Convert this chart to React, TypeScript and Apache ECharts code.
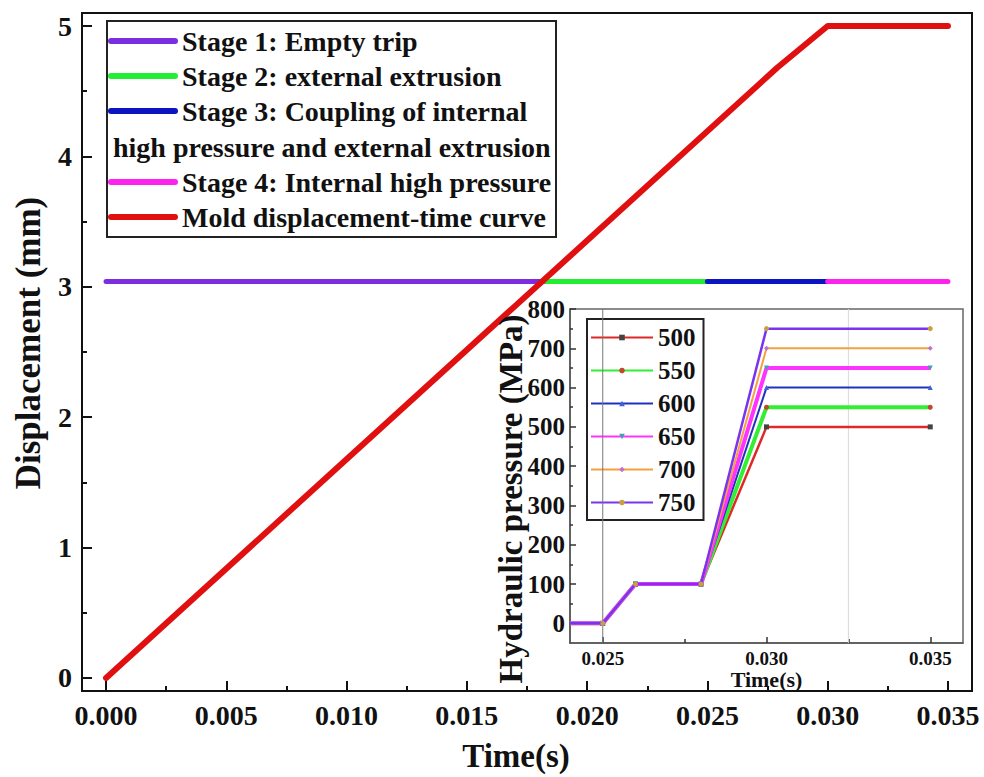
import React, { useEffect, useRef } from "react";
import * as echarts from "echarts";

const FONT = "Liberation Serif";

// ---- main chart data ----
const MAIN_X_TICKS = [0, 0.005, 0.01, 0.015, 0.02, 0.025, 0.03, 0.035];
const MAIN_X_MINOR = [0.0025, 0.0075, 0.0125, 0.0175, 0.0225, 0.0275, 0.0325];
const MAIN_Y_TICKS = [0, 1, 2, 3, 4, 5];
const MAIN_Y_MINOR = [0.5, 1.5, 2.5, 3.5, 4.5];

const MOLD_TIME = [0, 0.0279, 0.03, 0.035];
const MOLD_DISP = [0, 4.68, 5, 5];

const STAGE_NAMES = [
  "Stage 1: Empty trip",
  "Stage 2: external extrusion",
  "Stage 3: Coupling of internal",
  "Stage 4: Internal high pressure",
];
const STAGE_START = [0, 0.0183, 0.025, 0.03];
const STAGE_END = [0.0183, 0.025, 0.03, 0.035];
const STAGE_LEVEL = 3.04;
const STAGE_COLORS = ["#7b2ee0", "#22ee33", "#0a14c0", "#ff22ee"];
const MOLD_NAME = "Mold displacement-time curve";
const MOLD_COLOR = "#e01010";

// ---- inset data ----
const INSET_TIME = [0.024, 0.025, 0.026, 0.028, 0.03, 0.035];
const P500 = [0, 0, 100, 100, 500, 500];
const P550 = [0, 0, 100, 100, 550, 550];
const P600 = [0, 0, 100, 100, 600, 600];
const P650 = [0, 0, 100, 100, 650, 650];
const P700 = [0, 0, 100, 100, 700, 700];
const P750 = [0, 0, 100, 100, 750, 750];
const INSET_NAMES = ["500", "550", "600", "650", "700", "750"];
const INSET_VALUES = [P500, P550, P600, P650, P700, P750];
const INSET_LINE_COLORS = ["#e02828", "#33ee33", "#2030c0", "#ff33ff", "#f5a040", "#7a34f0"];
const INSET_MARK_COLORS = ["#444444", "#c04830", "#4062d8", "#40a0b0", "#c070d0", "#c8a040"];
const INSET_SYMBOLS = ["rect", "circle", "triangle", "path://M0,0 L10,0 L5,10 Z", "diamond", "circle"];
const INSET_WIDTHS = [2.5, 4, 2, 4, 2, 2.5];
const INSET_X_TICKS = [0.025, 0.03, 0.035];
const INSET_X_MINOR = [0.0275, 0.0325];
const INSET_Y_TICKS = [0, 100, 200, 300, 400, 500, 600, 700, 800];
const INSET_Y_MINOR = [50, 150, 250, 350, 450, 550, 650, 750];
const INSET_Y_MIN = -50;
const INSET_Y_MAX = 800;
const INSET_VLINES = [0.025, 0.0325];
const INSET_VLINE_COLORS = ["#777777", "#d8d8d8"];

const MAIN_GRID = { left: 82, top: 13, width: 890, height: 679 };
const INSET_GRID = { left: 570, top: 309, width: 393, height: 334 };

function buildOption() {
  const txt = (size: number) => ({
    fontFamily: FONT,
    fontWeight: "bold" as const,
    fontSize: size,
    color: "#111",
  });

  const xAxis: any[] = [
    {
      type: "value",
      gridIndex: 0,
      position: "bottom",
      min: -0.001,
      max: 0.036,
      axisLine: { show: true, onZero: false, lineStyle: { color: "#111", width: 2 } },
      axisTick: { show: true, inside: true, length: 10, customValues: MAIN_X_TICKS, lineStyle: { color: "#111", width: 2 } },
      axisLabel: { customValues: MAIN_X_TICKS, formatter: (v: number) => v.toFixed(3), margin: 10, ...txt(28) },
      splitLine: { show: false },
      name: "Time(s)",
      nameLocation: "middle",
      nameGap: 48,
      nameTextStyle: { ...txt(33), padding: [0, 22, 0, 0] },
    },
    {
      type: "value",
      gridIndex: 0,
      position: "bottom",
      min: -0.001,
      max: 0.036,
      axisLine: { show: false, onZero: false },
      axisTick: { show: true, inside: true, length: 5, customValues: MAIN_X_MINOR, lineStyle: { color: "#111", width: 2 } },
      axisLabel: { show: false },
      splitLine: { show: false },
    },
    {
      type: "value",
      gridIndex: 1,
      position: "bottom",
      min: 0.024,
      max: 0.036,
      axisLine: { show: true, onZero: false, lineStyle: { color: "#555", width: 1.5 } },
      axisTick: { show: true, inside: true, length: 6, customValues: INSET_X_TICKS, lineStyle: { color: "#333", width: 1.5 } },
      axisLabel: { customValues: INSET_X_TICKS, formatter: (v: number) => v.toFixed(3), margin: 6, ...txt(19) },
      splitLine: { show: false },
      name: "Time(s)",
      nameLocation: "middle",
      nameGap: 24,
      nameTextStyle: txt(22),
    },
    {
      type: "value",
      gridIndex: 1,
      position: "bottom",
      min: 0.024,
      max: 0.036,
      axisLine: { show: false, onZero: false },
      axisTick: { show: true, inside: true, length: 4, customValues: INSET_X_MINOR, lineStyle: { color: "#333", width: 1.5 } },
      axisLabel: { show: false },
      splitLine: { show: false },
    },
  ];

  const yAxis: any[] = [
    {
      type: "value",
      gridIndex: 0,
      position: "left",
      min: -0.1,
      max: 5.1,
      axisLine: { show: true, onZero: false, lineStyle: { color: "#111", width: 2 } },
      axisTick: { show: true, inside: true, length: 10, customValues: MAIN_Y_TICKS, lineStyle: { color: "#111", width: 2 } },
      axisLabel: { customValues: MAIN_Y_TICKS, formatter: (v: number) => String(v), margin: 10, ...txt(28) },
      splitLine: { show: false },
      name: "Displacement (mm)",
      nameLocation: "middle",
      nameGap: 36,
      nameRotate: 90,
      nameTextStyle: { ...txt(35), padding: [0, 0, 0, 18] },
    },
    {
      type: "value",
      gridIndex: 0,
      position: "left",
      min: -0.1,
      max: 5.1,
      axisLine: { show: false, onZero: false },
      axisTick: { show: true, inside: true, length: 5, customValues: MAIN_Y_MINOR, lineStyle: { color: "#111", width: 2 } },
      axisLabel: { show: false },
      splitLine: { show: false },
    },
    {
      type: "value",
      gridIndex: 1,
      position: "left",
      min: INSET_Y_MIN,
      max: INSET_Y_MAX,
      axisLine: { show: true, onZero: false, lineStyle: { color: "#555", width: 1.5 } },
      axisTick: { show: true, inside: true, length: 6, customValues: INSET_Y_TICKS, lineStyle: { color: "#333", width: 1.5 } },
      axisLabel: { customValues: INSET_Y_TICKS, formatter: (v: number) => String(v), margin: 5, ...txt(25) },
      splitLine: { show: false },
    },
    {
      type: "value",
      gridIndex: 1,
      position: "left",
      min: INSET_Y_MIN,
      max: INSET_Y_MAX,
      axisLine: { show: false, onZero: false },
      axisTick: { show: true, inside: true, length: 3, customValues: INSET_Y_MINOR, lineStyle: { color: "#333", width: 1.5 } },
      axisLabel: { show: false },
      splitLine: { show: false },
    },
  ];

  const series: any[] = [];
  STAGE_NAMES.forEach((name, i) => {
    series.push({
      type: "line",
      name,
      xAxisIndex: 0,
      yAxisIndex: 0,
      data: [
        [STAGE_START[i], STAGE_LEVEL],
        [STAGE_END[i], STAGE_LEVEL],
      ],
      symbol: "none",
      lineStyle: { color: STAGE_COLORS[i], width: 5, cap: "round" },
      z: 3,
    });
  });
  series.push({
    type: "line",
    name: MOLD_NAME,
    xAxisIndex: 0,
    yAxisIndex: 0,
    data: MOLD_TIME.map((t, i) => [t, MOLD_DISP[i]]),
    symbol: "none",
    lineStyle: { color: MOLD_COLOR, width: 6, cap: "round", join: "round" },
    z: 4,
  });

  // inset vertical reference lines
  INSET_VLINES.forEach((x, k) => {
    series.push({
      type: "line",
      name: "vline" + k,
      xAxisIndex: 2,
      yAxisIndex: 2,
      data: [
        [x, INSET_Y_MIN],
        [x, INSET_Y_MAX],
      ],
      symbol: "none",
      silent: true,
      lineStyle: { color: INSET_VLINE_COLORS[k], width: 1 },
      z: 5,
    });
  });

  INSET_NAMES.forEach((name, i) => {
    series.push({
      type: "line",
      name,
      xAxisIndex: 2,
      yAxisIndex: 2,
      data: INSET_TIME.map((t, j) =>
        j === 0 ? { value: [t, INSET_VALUES[i][j]], symbol: "none" } : [t, INSET_VALUES[i][j]]
      ),
      symbol: INSET_SYMBOLS[i],
      symbolSize: 5,
      showSymbol: true,
      itemStyle: { color: INSET_MARK_COLORS[i] },
      lineStyle: { color: INSET_LINE_COLORS[i], width: INSET_WIDTHS[i] },
      z: 6 + i,
    });
  });

  const legendRows = [
    { line: 0, text: STAGE_NAMES[0], y: 41 },
    { line: 1, text: STAGE_NAMES[1], y: 76 },
    { line: 2, text: STAGE_NAMES[2], y: 111 },
    { line: -1, text: "high pressure and external extrusion", y: 147 },
    { line: 3, text: STAGE_NAMES[3], y: 182 },
    { line: 4, text: MOLD_NAME, y: 217 },
  ];
  const legendChildren: any[] = [
    {
      type: "rect",
      shape: { x: 107, y: 21, width: 449, height: 216 },
      style: { fill: "#fff", stroke: "#222", lineWidth: 2 },
    },
  ];
  legendRows.forEach((r) => {
    if (r.line >= 0) {
      const color = r.line < 4 ? STAGE_COLORS[r.line] : MOLD_COLOR;
      legendChildren.push({
        type: "line",
        shape: { x1: 111, y1: r.y, x2: 175, y2: r.y },
        style: { stroke: color, lineWidth: 6, lineCap: "round" },
      });
    }
    legendChildren.push({
      type: "text",
      x: r.line >= 0 ? 182 : 113,
      y: r.y,
      style: {
        text: r.text,
        fontFamily: FONT,
        fontWeight: "bold",
        fontSize: 28,
        fill: "#111",
        verticalAlign: "middle",
        align: "left",
      },
    });
  });

  return {
    animation: false,
    backgroundColor: "#ffffff",
    textStyle: { fontFamily: FONT },
    grid: [
      { ...MAIN_GRID, show: true, borderColor: "#111", borderWidth: 2, backgroundColor: "transparent", containLabel: false },
      { ...INSET_GRID, show: true, borderColor: "#666", borderWidth: 1.5, backgroundColor: "#ffffff", containLabel: false },
    ],
    xAxis,
    yAxis,
    legend: {
      data: INSET_NAMES,
      orient: "vertical",
      left: 587,
      top: 319,
      itemWidth: 62,
      itemHeight: 7,
      itemGap: 8,
      itemTextGap: 3,
      padding: [6, 8, 5, 3],
      borderColor: "#222",
      borderWidth: 2,
      backgroundColor: "#fff",
      textStyle: { ...txt(25), lineHeight: 25 },
      selectedMode: false,
    },
    series,
    graphic: [
      { type: "group", z: 20, children: legendChildren },
      {
        type: "text",
        z: 20,
        x: 511,
        y: 499,
        rotation: Math.PI / 2,
        style: {
          text: "Hydraulic pressure (MPa)",
          fontFamily: FONT,
          fontWeight: "bold",
          fontSize: 33,
          fill: "#111",
          align: "center",
          verticalAlign: "middle",
        },
      },
    ],
  };
}

export default function App() {
  const ref = useRef<HTMLDivElement>(null);
  useEffect(() => {
    if (!ref.current) return;
    const chart = echarts.init(ref.current, undefined, { renderer: "svg" });
    chart.setOption(buildOption() as any);
    return () => chart.dispose();
  }, []);
  return (
    <div
      ref={ref}
      style={{ position: "fixed", left: 0, top: 0, width: 984, height: 777, background: "#fff" }}
    />
  );
}
